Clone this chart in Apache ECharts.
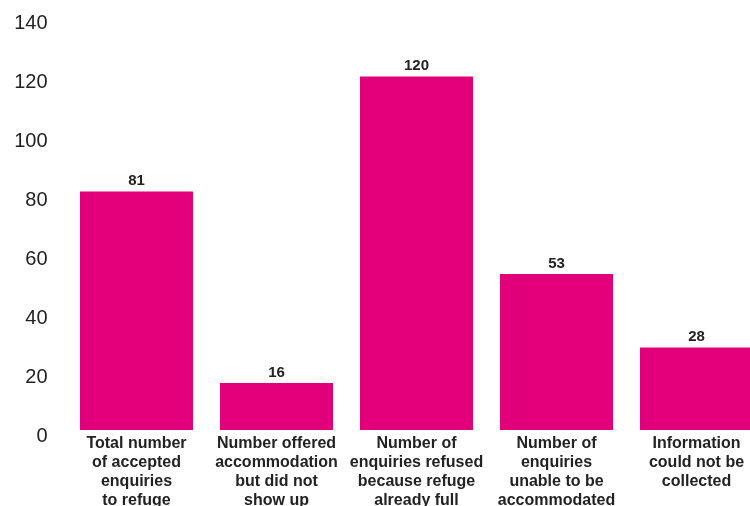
<!DOCTYPE html>
<html>
<head>
<meta charset="utf-8">
<script src="https://cdn.jsdelivr.net/npm/echarts@6/dist/echarts.min.js"></script>
<style>
  html, body { margin: 0; padding: 0; background: #ffffff; }
  #chart { width: 750px; height: 506px; }
</style>
</head>
<body>
<div id="chart"></div>
<script>
// Refuge enquiry outcomes
const categories = [
  'Total number\nof accepted\nenquiries\nto refuge',
  'Number offered\naccommodation\nbut did not\nshow up',
  'Number of\nenquiries refused\nbecause refuge\nalready full',
  'Number of\nenquiries\nunable to be\naccommodated',
  'Information\ncould not be\ncollected'
];
const counts = [81, 16, 120, 53, 28];
const yTicks = { min: 0, max: 140, interval: 20 };

const chart = echarts.init(document.getElementById('chart'), null, { renderer: 'canvas' });

chart.setOption({
  animation: false,
  backgroundColor: '#ffffff',
  // the last band runs past the right edge of the canvas
  grid: {
    left: 66.5, top: 17.7, width: 700, height: 412.3,
    containLabel: false,
    outerBoundsMode: 'none'
  },
  xAxis: {
    type: 'category',
    data: categories,
    axisLine: { show: false },
    axisTick: { show: false },
    axisLabel: {
      interval: 0,
      margin: 4,
      color: '#222222',
      fontFamily: '"Liberation Sans", Arial, sans-serif',
      fontWeight: 'bold',
      fontSize: 16,
      lineHeight: 19,
      align: 'center'
    }
  },
  yAxis: {
    type: 'value',
    min: yTicks.min,
    max: yTicks.max,
    interval: yTicks.interval,
    axisLine: { show: false },
    axisTick: { show: false },
    splitLine: { show: false },
    axisLabel: {
      margin: 19,
      color: '#222222',
      fontFamily: '"Liberation Sans", Arial, sans-serif',
      fontSize: 20,
      verticalAlign: 'top',
      lineHeight: 12
    }
  },
  series: [{
    type: 'bar',
    data: counts,
    barWidth: 113,
    itemStyle: { color: '#e2007a' },
    label: {
      show: true,
      position: 'top',
      distance: 3,
      color: '#222222',
      fontFamily: '"Liberation Sans", Arial, sans-serif',
      fontWeight: 'bold',
      fontSize: 15
    }
  }]
});
</script>
</body>
</html>
